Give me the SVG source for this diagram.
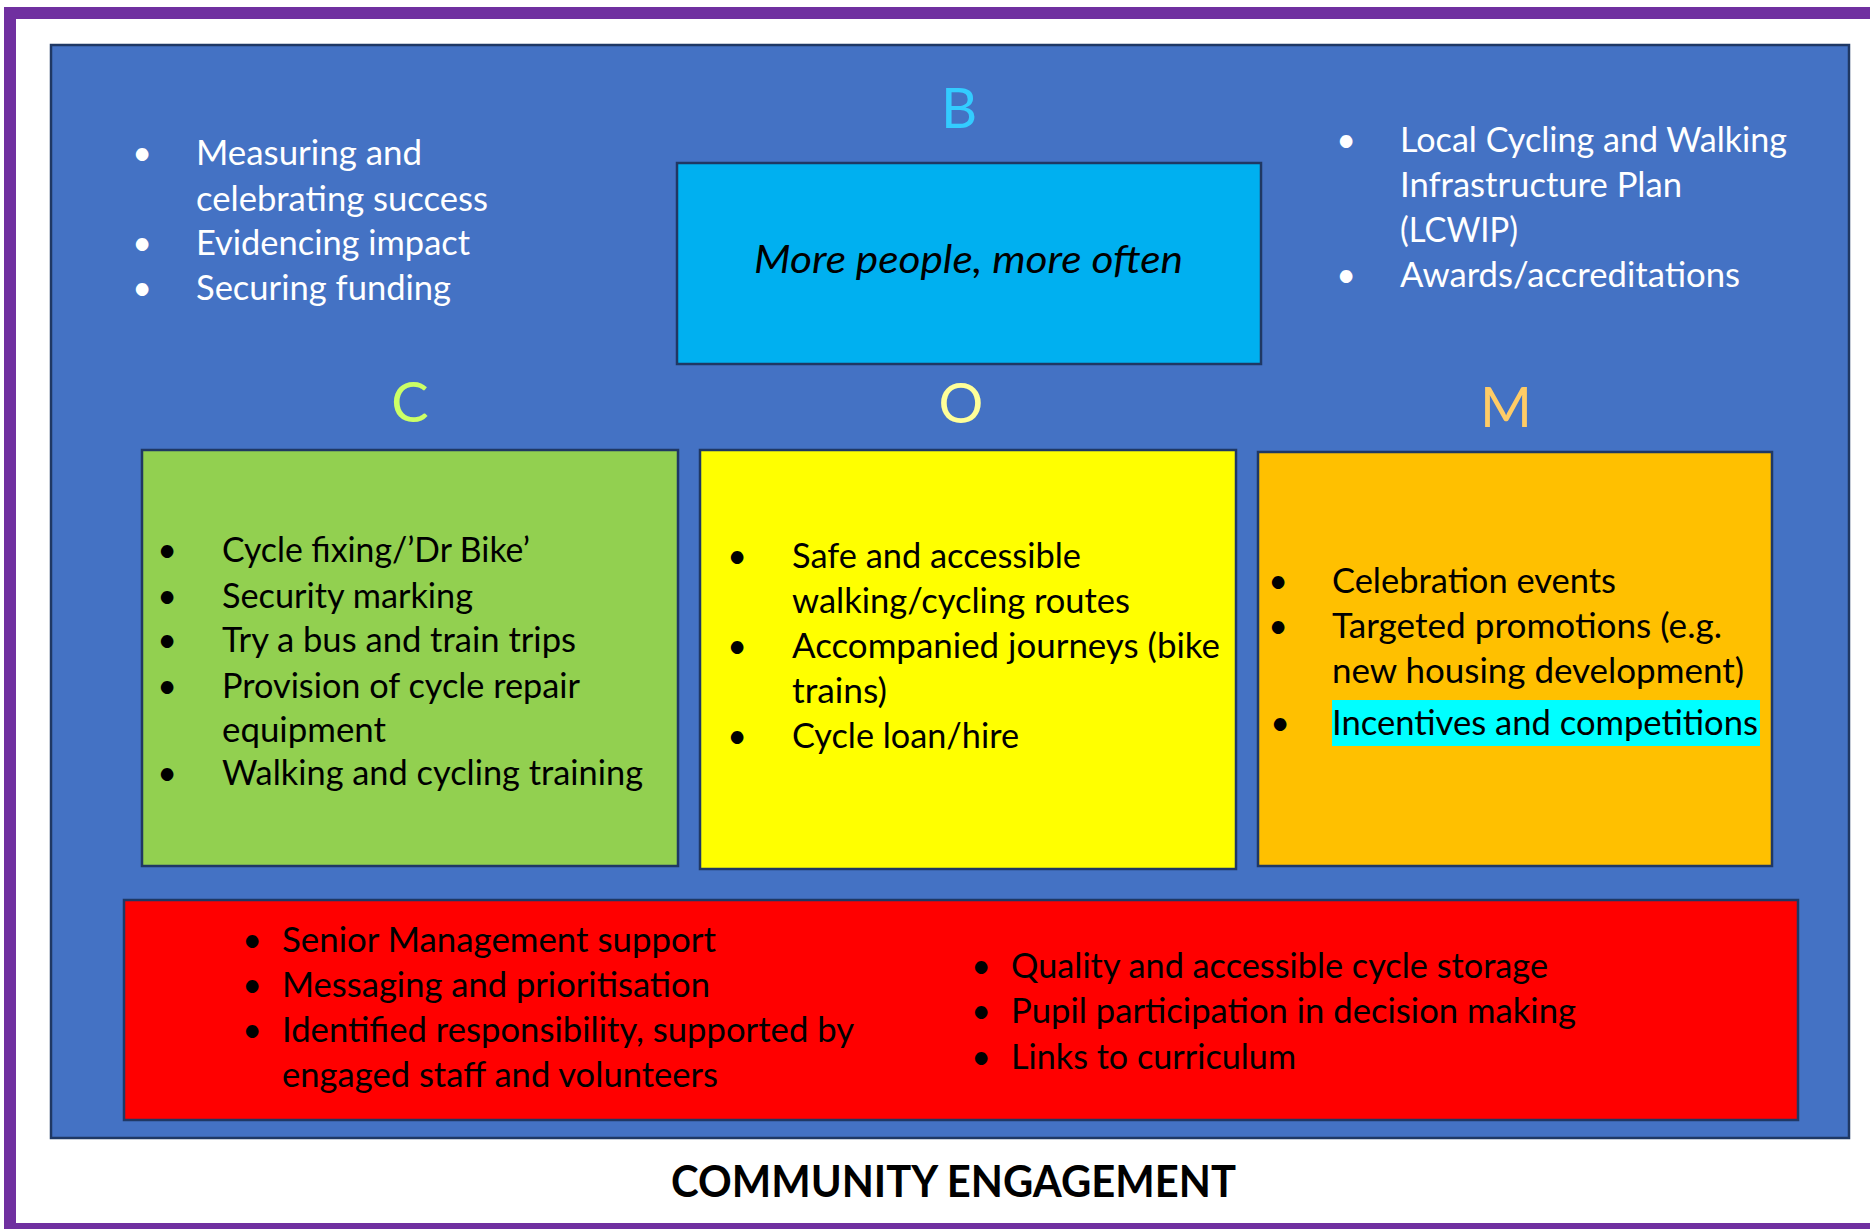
<svg xmlns="http://www.w3.org/2000/svg" width="1870" height="1229" viewBox="0 0 1870 1229">
<style>
.t{font-family:Lato,"Open Sans","Liberation Sans",sans-serif;font-size:34px}
.w{fill:#ffffff}
.k{fill:#000000}
.b{text-anchor:middle}
.box{stroke:#1F3864;stroke-width:2.5}
.big{font-family:Lato,"Open Sans","Liberation Sans",sans-serif;font-size:56px;text-anchor:middle}
</style>
<rect x="0" y="0" width="1870" height="1229" fill="#ffffff"/>
<g id="frame" fill="#7030A0">
<rect x="4" y="7" width="1866" height="12"/>
<rect x="4" y="7" width="12" height="1222"/>
<rect x="4" y="1223" width="1866" height="6"/>
</g>
<g id="panel">
<rect x="51" y="45" width="1798" height="1093" fill="#4472C4" class="box"/>
</g>
<g id="note-left" class="t w">
<text x="142" y="165" class="b">•</text>
<text x="196" y="165" textLength="226" lengthAdjust="spacingAndGlyphs">Measuring and</text>
<text x="196" y="211" textLength="292" lengthAdjust="spacingAndGlyphs">celebrating success</text>
<text x="142" y="255" class="b">•</text>
<text x="196" y="255" textLength="274" lengthAdjust="spacingAndGlyphs">Evidencing impact</text>
<text x="142" y="300" class="b">•</text>
<text x="196" y="300" textLength="255" lengthAdjust="spacingAndGlyphs">Securing funding</text>
</g>
<g id="note-right" class="t w">
<text x="1346" y="152" class="b">•</text>
<text x="1400" y="152" textLength="387" lengthAdjust="spacingAndGlyphs">Local Cycling and Walking</text>
<text x="1400" y="197" textLength="282" lengthAdjust="spacingAndGlyphs">Infrastructure Plan</text>
<text x="1400" y="242" textLength="118" lengthAdjust="spacingAndGlyphs">(LCWIP)</text>
<text x="1346" y="287" class="b">•</text>
<text x="1400" y="287" textLength="340" lengthAdjust="spacingAndGlyphs">Awards/accreditations</text>
</g>
<g id="node-B">
<text x="959" y="128" class="big" fill="#33CCFF">B</text>
<rect x="677" y="163" width="584" height="201" fill="#00B0F0" class="box"/>
<text x="754" y="273" class="t k" style="font-size:38px;font-style:italic" textLength="429" lengthAdjust="spacingAndGlyphs">More people, more often</text>
</g>
<g id="node-C">
<text x="410" y="422" class="big" fill="#CCFF66">C</text>
<rect x="142" y="450" width="536" height="416" fill="#92D050" class="box"/>
<g class="t k">
<text x="167" y="562" class="b">•</text>
<text x="222" y="562" textLength="308" lengthAdjust="spacingAndGlyphs">Cycle fixing/’Dr Bike’</text>
<text x="167" y="608" class="b">•</text>
<text x="222" y="608" textLength="251" lengthAdjust="spacingAndGlyphs">Security marking</text>
<text x="167" y="652" class="b">•</text>
<text x="222" y="652" textLength="354" lengthAdjust="spacingAndGlyphs">Try a bus and train trips</text>
<text x="167" y="698" class="b">•</text>
<text x="222" y="698" textLength="358" lengthAdjust="spacingAndGlyphs">Provision of cycle repair</text>
<text x="222" y="742" textLength="164" lengthAdjust="spacingAndGlyphs">equipment</text>
<text x="167" y="785" class="b">•</text>
<text x="222" y="785" textLength="421" lengthAdjust="spacingAndGlyphs">Walking and cycling training</text>
</g>
</g>
<g id="node-O">
<text x="961" y="423" class="big" fill="#FFFF99">O</text>
<rect x="700" y="450" width="536" height="419" fill="#FFFF00" class="box"/>
<g class="t k">
<text x="737" y="568" class="b">•</text>
<text x="792" y="568" textLength="289" lengthAdjust="spacingAndGlyphs">Safe and accessible</text>
<text x="792" y="613" textLength="338" lengthAdjust="spacingAndGlyphs">walking/cycling routes</text>
<text x="737" y="658" class="b">•</text>
<text x="792" y="658" textLength="428" lengthAdjust="spacingAndGlyphs">Accompanied journeys (bike</text>
<text x="792" y="703" textLength="95" lengthAdjust="spacingAndGlyphs">trains)</text>
<text x="737" y="748" class="b">•</text>
<text x="792" y="748" textLength="227" lengthAdjust="spacingAndGlyphs">Cycle loan/hire</text>
</g>
</g>
<g id="node-M">
<text x="1506" y="427" class="big" fill="#FFCC66">M</text>
<rect x="1258" y="452" width="514" height="414" fill="#FFC000" class="box"/>
<rect x="1332" y="700" width="428" height="46" fill="#00FFFF"/>
<g class="t k">
<text x="1278" y="593" class="b">•</text>
<text x="1332" y="593" textLength="284" lengthAdjust="spacingAndGlyphs">Celebration events</text>
<text x="1278" y="638" class="b">•</text>
<text x="1332" y="638" textLength="390" lengthAdjust="spacingAndGlyphs">Targeted promotions (e.g.</text>
<text x="1332" y="683" textLength="412" lengthAdjust="spacingAndGlyphs">new housing development)</text>
<text x="1280" y="735" class="b">•</text>
<text x="1332" y="735" textLength="426" lengthAdjust="spacingAndGlyphs">Incentives and competitions</text>
</g>
</g>
<g id="node-foundation">
<rect x="124" y="900" width="1674" height="220" fill="#FF0000" class="box"/>
<g class="t k">
<text x="252" y="952" class="b">•</text>
<text x="282" y="952" textLength="434" lengthAdjust="spacingAndGlyphs">Senior Management support</text>
<text x="252" y="997" class="b">•</text>
<text x="282" y="997" textLength="428" lengthAdjust="spacingAndGlyphs">Messaging and prioritisation</text>
<text x="252" y="1042" class="b">•</text>
<text x="282" y="1042" textLength="572" lengthAdjust="spacingAndGlyphs">Identified responsibility, supported by</text>
<text x="282" y="1087" textLength="436" lengthAdjust="spacingAndGlyphs">engaged staff and volunteers</text>
<text x="981" y="978" class="b">•</text>
<text x="1011" y="978" textLength="537" lengthAdjust="spacingAndGlyphs">Quality and accessible cycle storage</text>
<text x="981" y="1023" class="b">•</text>
<text x="1011" y="1023" textLength="565" lengthAdjust="spacingAndGlyphs">Pupil participation in decision making</text>
<text x="981" y="1069" class="b">•</text>
<text x="1011" y="1069" textLength="285" lengthAdjust="spacingAndGlyphs">Links to curriculum</text>
</g>
</g>
<g id="title">
<text x="671" y="1197" class="t k" style="font-size:43px;font-weight:bold" textLength="565" lengthAdjust="spacingAndGlyphs">COMMUNITY ENGAGEMENT</text>
</g>
<g id="connectors"/>
</svg>
